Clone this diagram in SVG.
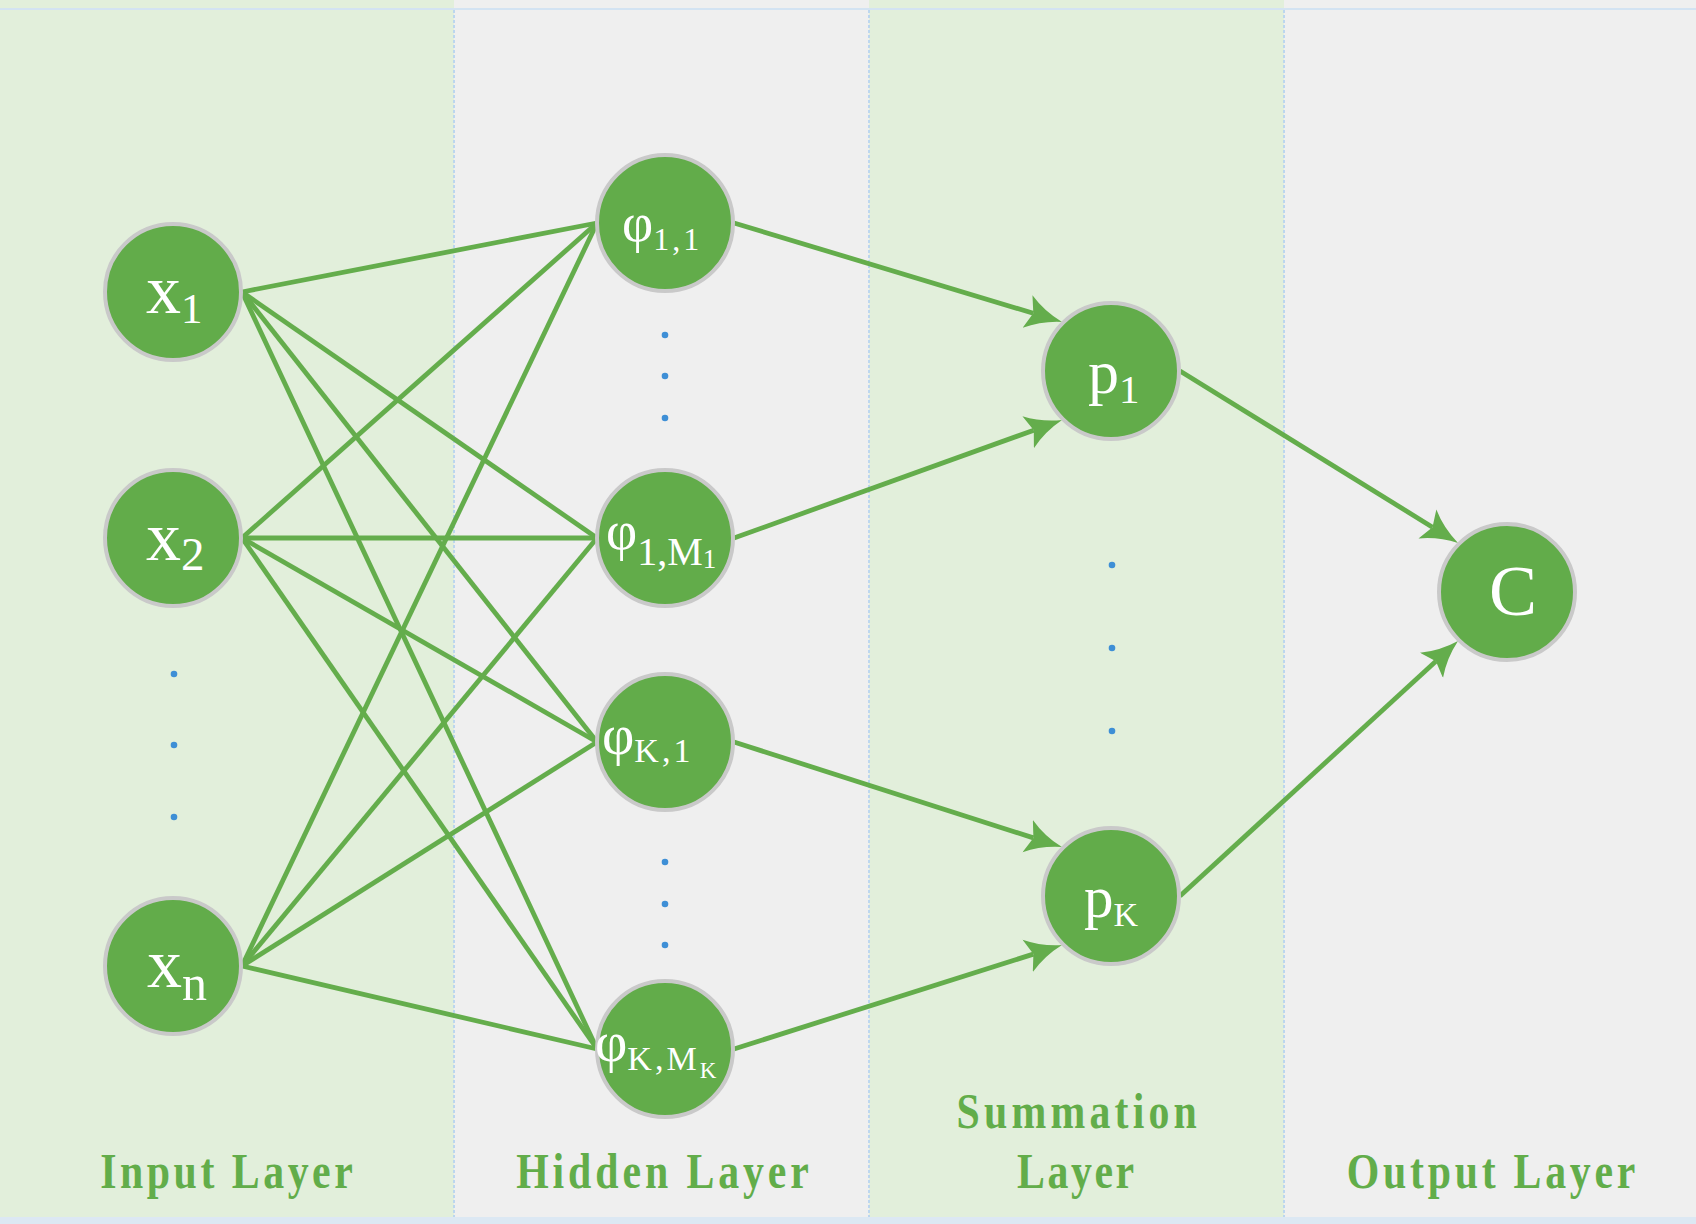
<svg xmlns="http://www.w3.org/2000/svg" width="1696" height="1224" viewBox="0 0 1696 1224">
<style>
.band-g{fill:#e2efdb}
.band-w{fill:#efefef}
.sep{stroke:#bcd6ee;stroke-width:2;stroke-dasharray:3 2}
.edge{stroke:#64ad4c;stroke-width:4.8;fill:none}
.arr{stroke:#64ad4c;stroke-width:4.8;fill:none;marker-end:url(#ah)}
.node{fill:#62ac4a;stroke:#c9c9c9;stroke-width:4}
.lbl{font-family:"Liberation Serif","Times New Roman",serif;fill:#ffffff}
.dot{fill:#3e8fd6}
.title{font-family:"Liberation Serif","Times New Roman",serif;font-weight:bold;font-size:51px;fill:#62ad4a}
</style>
<defs>
<marker id="ah" markerUnits="userSpaceOnUse" viewBox="0 -20 40 40" markerWidth="40" markerHeight="40" refX="6" refY="0" orient="auto">
<path d="M36,0 Q16,-5 0,-17 L6,0 L0,17 Q16,5 36,0 Z" fill="#64ad4c"/>
</marker>
</defs>
<g id="background">
<rect class="band-g" x="0" y="0" width="454" height="1224"/>
<rect class="band-w" x="454" y="0" width="415" height="1224"/>
<rect class="band-g" x="869" y="0" width="415" height="1224"/>
<rect class="band-w" x="1284" y="0" width="412" height="1224"/>
<line class="sep" x1="454" y1="10" x2="454" y2="1218"/>
<line class="sep" x1="869" y1="10" x2="869" y2="1218"/>
<line class="sep" x1="1284" y1="10" x2="1284" y2="1218"/>
<line x1="0" y1="9" x2="1696" y2="9" stroke="#d3e3f2" stroke-width="2"/>
<rect x="0" y="1217" width="1696" height="7" fill="#dce8f3"/>
</g>
<g id="connectors">
<line class="edge" x1="242" y1="292" x2="597" y2="223"/>
<line class="edge" x1="242" y1="292" x2="597" y2="538"/>
<line class="edge" x1="242" y1="292" x2="597" y2="742"/>
<line class="edge" x1="242" y1="292" x2="597" y2="1049"/>
<line class="edge" x1="242" y1="538" x2="597" y2="223"/>
<line class="edge" x1="242" y1="538" x2="597" y2="538"/>
<line class="edge" x1="242" y1="538" x2="597" y2="742"/>
<line class="edge" x1="242" y1="538" x2="597" y2="1049"/>
<line class="edge" x1="242" y1="966" x2="597" y2="223"/>
<line class="edge" x1="242" y1="966" x2="597" y2="538"/>
<line class="edge" x1="242" y1="966" x2="597" y2="742"/>
<line class="edge" x1="242" y1="966" x2="597" y2="1049"/>
<line class="arr" x1="734" y1="223" x2="1033.3" y2="313.3"/>
<line class="arr" x1="734" y1="538" x2="1033.8" y2="430.2"/>
<line class="arr" x1="734" y1="742" x2="1033.4" y2="837.9"/>
<line class="arr" x1="734" y1="1049" x2="1033.4" y2="954.1"/>
<line class="arr" x1="1180" y1="371" x2="1432.5" y2="527.2"/>
<line class="arr" x1="1180" y1="896" x2="1435.9" y2="661.3"/>
</g>
<g id="dots">
<circle class="dot" cx="174" cy="674" r="3.3"/>
<circle class="dot" cx="174" cy="745" r="3.3"/>
<circle class="dot" cx="174" cy="817" r="3.3"/>
<circle class="dot" cx="665" cy="335" r="3.3"/>
<circle class="dot" cx="665" cy="376" r="3.3"/>
<circle class="dot" cx="665" cy="418" r="3.3"/>
<circle class="dot" cx="665" cy="862" r="3.3"/>
<circle class="dot" cx="665" cy="904" r="3.3"/>
<circle class="dot" cx="665" cy="945" r="3.3"/>
<circle class="dot" cx="1112" cy="565" r="3.3"/>
<circle class="dot" cx="1112" cy="648" r="3.3"/>
<circle class="dot" cx="1112" cy="731" r="3.3"/>
</g>
<g id="node-x1">
<circle class="node" cx="173" cy="292" r="68"/>
<text class="lbl" x="146" y="313" font-size="70">x<tspan font-size="43" dy="10">1</tspan></text>
</g>
<g id="node-x2">
<circle class="node" cx="173" cy="538" r="68"/>
<text class="lbl" x="146" y="560" font-size="70">x<tspan font-size="47" dy="10">2</tspan></text>
</g>
<g id="node-xn">
<circle class="node" cx="173" cy="966" r="68"/>
<text class="lbl" x="147" y="987" font-size="70">x<tspan font-size="50" dy="13">n</tspan></text>
</g>
<g id="node-phi11">
<circle class="node" cx="665" cy="223" r="68"/>
<text class="lbl" x="622" y="241" font-size="54">φ<tspan font-size="32" dy="9" letter-spacing="3">1,1</tspan></text>
</g>
<g id="node-phi1M1">
<circle class="node" cx="665" cy="538" r="68"/>
<text class="lbl" x="606" y="549" font-size="54">φ<tspan font-size="40" dy="16">1,M</tspan><tspan font-size="27" dy="3">1</tspan></text>
</g>
<g id="node-phiK1">
<circle class="node" cx="665" cy="742" r="68"/>
<text class="lbl" x="602" y="754" font-size="56">φ<tspan font-size="34" dy="8" letter-spacing="3">K,1</tspan></text>
</g>
<g id="node-phiKMK">
<circle class="node" cx="665" cy="1049" r="68"/>
<text class="lbl" x="595" y="1061" font-size="56">φ<tspan font-size="34" dy="9" letter-spacing="3">K,M</tspan><tspan font-size="23" dy="8">K</tspan></text>
</g>
<g id="node-p1">
<circle class="node" cx="1111" cy="371" r="68"/>
<text class="lbl" x="1088" y="393" font-size="62">p<tspan font-size="41" dy="10">1</tspan></text>
</g>
<g id="node-pK">
<circle class="node" cx="1111" cy="896" r="68"/>
<text class="lbl" x="1084" y="917" font-size="59">p<tspan font-size="34" dy="9">K</tspan></text>
</g>
<g id="node-C">
<circle class="node" cx="1507" cy="592" r="68"/>
<text class="lbl" x="1489" y="615" font-size="72">C</text>
</g>
<g id="titles">
<text class="title" transform="translate(226.5,1188) scale(0.82,1)" text-anchor="middle" textLength="308" lengthAdjust="spacing">Input Layer</text>
<text class="title" transform="translate(662.5,1188) scale(0.82,1)" text-anchor="middle" textLength="357" lengthAdjust="spacing">Hidden Layer</text>
<text class="title" transform="translate(1076.7,1128) scale(0.82,1)" text-anchor="middle" textLength="293" lengthAdjust="spacing">Summation</text>
<text class="title" transform="translate(1075.5,1188) scale(0.82,1)" text-anchor="middle" textLength="143" lengthAdjust="spacing">Layer</text>
<text class="title" transform="translate(1491,1188) scale(0.82,1)" text-anchor="middle" textLength="352" lengthAdjust="spacing">Output Layer</text>
</g>
</svg>
